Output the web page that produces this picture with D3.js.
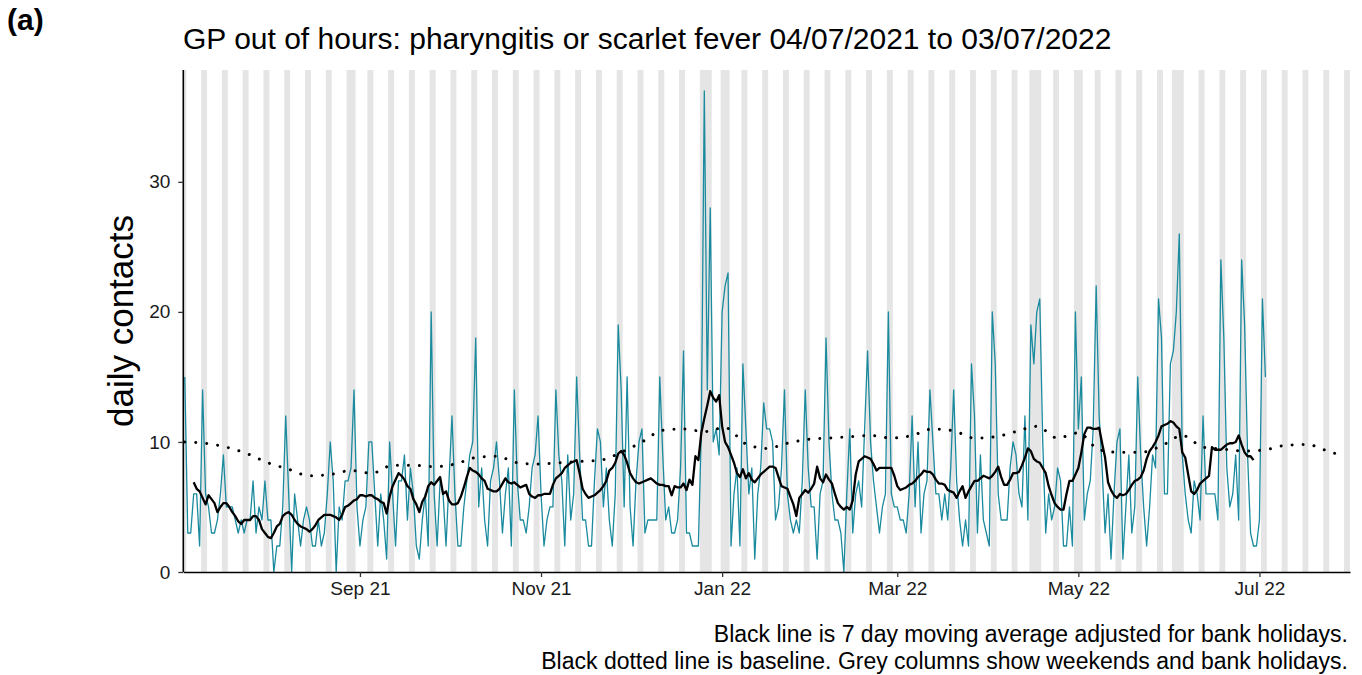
<!DOCTYPE html>
<html><head><meta charset="utf-8">
<script src="https://cdn.jsdelivr.net/npm/d3@7"></script>
<style>body{margin:0;background:#fff;} svg text{font-family:"Liberation Sans",Arial,sans-serif;}</style>
</head><body><svg id="c" width="1362" height="675"></svg>
<script>
// ---------- DATA ----------
const startDate = "2021-07-04";
const dailyContacts = [
15,3,3,6,6,2,14, 6,5,3,3,4,6,9, 5,5,5,4,3,4,3, 4,4,7,3,5,4,7, 4,4,0,2,2,5,12,
6,0,6,4,2,4,5, 4,2,2,4,2,3,6, 10,7,0,5,4,7,7, 8,14,5,2,4,5,10, 10,6,2,6,4,1,10,
6,2,7,7,9,4,8, 6,2,1,4,6,2,20, 6,2,7,6,2,7,12, 6,2,2,5,7,9,10, 18,5,8,4,2,7,8,
10,7,3,6,8,2,14, 7,4,4,3,5,8,9, 12,6,2,4,5,5,14, 9,7,2,9,4,6,15, 9,4,4,2,2,7,11,
10,5,8,4,2,6,19, 14,5,15,5,2,7,10, 11,3,4,4,4,4,15, 9,4,5,3,3,4,8, 17,3,3,2,2,2,11,
37,14,28,10,11,9,20, 22,23,2,6,8,2,16, 11,6,8,1,6,8,13, 11,11,10,4,5,8,14, 6,4,3,4,3,7,14,
8,5,5,1,6,7,18, 10,6,4,4,3,0,6, 11,3,6,7,5,11,17, 10,7,5,3,5,6,20, 6,5,5,4,4,3,6,
12,5,10,3,6,7,14, 10,6,6,4,6,4,8, 14,7,4,2,4,2,16, 12,3,9,4,3,2,20, 16,6,4,4,4,8,10,
9,6,5,12,4,19,16, 20,21,10,3,6,4,5, 8,7,2,2,5,2,20, 11,15,4,6,7,11,22, 12,8,3,6,1,6,10,
11,1,5,9,3,5,15, 9,5,2,5,9,8,21, 18,6,6,16,17,20,26, 9,6,4,3,7,6,4, 12,6,6,6,6,4,24,
18,8,5,6,9,4,24, 19,9,3,2,2,4,21, 15
];
const maStartDate = "2021-07-07";
const movingAverage = [
6.9,6.4,6.2,5.7,5.2,5.9,5.6,5.3,4.6,5.0,5.3,5.3,5.0,4.6,4.3,3.9,3.7,4.0,4.0,4.0,
4.3,4.3,4.0,3.3,3.0,2.7,2.6,3.0,3.5,3.7,4.3,4.5,4.6,4.4,4.0,3.7,3.5,3.4,3.3,3.1,
3.3,3.6,4.0,4.2,4.4,4.4,4.4,4.3,4.2,4.0,4.4,5.0,5.1,5.3,5.5,5.6,5.9,5.9,5.8,5.9,
5.9,5.7,5.6,5.4,5.3,4.5,5.8,6.6,7.1,7.6,7.4,7.1,6.6,6.4,5.6,5.2,4.6,5.4,5.8,6.6,
6.9,6.7,7.0,7.3,6.0,6.2,5.5,5.2,5.2,5.3,5.8,6.5,7.3,8.0,7.8,7.7,7.5,7.2,7.0,6.4,
6.3,6.2,6.2,6.4,6.8,7.2,6.9,6.8,6.9,6.7,6.5,6.6,6.7,6.0,5.8,5.7,5.9,5.9,6.0,6.0,
6.0,6.7,7.2,7.4,7.6,8.0,8.2,8.4,8.5,8.6,7.6,6.4,6.0,5.7,5.8,5.9,6.1,6.3,6.6,7.0,
7.8,8.0,8.4,9.1,9.3,9.0,8.4,7.6,7.2,6.9,6.8,6.9,7.0,7.1,7.2,7.0,6.8,6.7,6.7,6.6,
6.6,5.9,6.6,6.5,6.5,6.8,6.3,7.1,6.7,8.9,8.6,10.7,11.8,12.8,13.9,13.4,13.1,13.6,11.2,10.0,
9.6,9.0,8.4,7.6,7.3,7.9,7.2,7.6,7.1,6.9,7.2,7.5,7.7,7.9,8.1,8.1,8.0,7.3,6.6,6.5,
6.4,5.8,5.2,4.3,5.7,6.0,6.3,6.1,6.4,6.8,8.1,7.2,6.9,7.5,7.1,6.8,6.0,5.3,5.0,4.8,
5.0,4.8,5.5,7.5,8.5,8.7,8.9,8.8,8.7,8.3,7.8,8.0,8.0,8.0,8.0,8.0,7.4,6.6,6.3,6.4,
6.5,6.7,6.8,7.0,7.3,7.5,7.8,7.7,7.7,7.5,7.1,6.8,6.8,6.7,6.3,6.2,6.1,5.7,6.2,6.6,
5.7,6.2,6.6,7.0,7.0,7.2,7.4,7.3,7.2,7.4,7.7,8.1,7.3,6.7,6.7,7.1,7.6,7.6,7.7,8.2,
8.8,9.5,9.3,8.7,8.5,8.4,8.0,7.6,6.6,5.9,5.3,5.0,4.8,4.8,6.0,7.0,7.0,7.5,8.0,9.2,
10.6,11.1,11.1,11.0,11.0,11.1,9.9,8.8,6.9,6.3,5.9,5.7,6.0,5.9,6.0,6.3,6.7,7.0,7.1,7.3,
7.8,8.7,9.3,9.6,10.0,10.5,11.2,11.3,11.4,11.6,11.5,11.2,11.0,9.2,8.8,7.5,6.2,6.0,6.3,6.8,
7.0,7.2,7.4,9.6,9.4,9.4,9.4,9.6,9.8,9.9,9.9,10.0,10.5,9.8,9.2,8.9,8.9,8.6
];
const baselineDates = [
"2021-07-04","2021-07-11","2021-07-18","2021-07-25","2021-08-01","2021-08-08","2021-08-15","2021-08-22",
"2021-08-29","2021-09-05","2021-09-12","2021-09-19","2021-09-26","2021-10-03","2021-10-10","2021-10-17",
"2021-10-24","2021-10-31","2021-11-07","2021-11-14","2021-11-21","2021-11-28","2021-12-05","2021-12-12",
"2021-12-19","2021-12-26","2022-01-02","2022-01-09","2022-01-16","2022-01-23","2022-01-30","2022-02-06",
"2022-02-13","2022-02-20","2022-02-27","2022-03-06","2022-03-13","2022-03-20","2022-03-27","2022-04-03",
"2022-04-10","2022-04-17","2022-04-24","2022-05-01","2022-05-08","2022-05-15","2022-05-22","2022-05-29",
"2022-06-05","2022-06-12","2022-06-19","2022-06-26","2022-07-03","2022-07-10","2022-07-17","2022-07-24",
"2022-07-28"];
const baselineValues = [
10.0,9.9,9.6,9.1,8.4,7.9,7.4,7.5,
7.8,7.6,8.2,8.2,8.1,8.3,8.8,8.9,
8.4,8.3,8.4,8.5,8.6,9.2,10.0,10.9,
11.0,10.8,11.1,9.85,9.5,9.9,10.2,10.3,
10.4,10.5,10.3,10.5,11.0,10.85,10.3,10.4,
10.8,11.2,10.3,10.7,9.4,9.2,9.2,9.7,
10.5,9.6,9.45,9.3,9.4,9.75,9.8,9.3,
9.0];
const bankHolidays = ["2021-08-30","2021-12-27","2021-12-28","2022-01-03","2022-04-15","2022-04-18","2022-05-02","2022-06-02","2022-06-03"];
const greyEndDate = "2022-07-31";
const xTickDates = ["2021-09-01","2021-11-01","2022-01-01","2022-03-01","2022-05-01","2022-07-01"];
const yTickValues = [0,10,20,30];
const titleText = "GP out of hours: pharyngitis or scarlet fever 04/07/2021 to 03/07/2022";
const panelLabel = "(a)";
const yAxisLabel = "daily contacts";
const captionLines = ["Black line is 7 day moving average adjusted for bank holidays.",
  "Black dotted line is baseline. Grey columns show weekends and bank holidays."];

// ---------- DRAW ----------
const parse = d3.utcParse("%Y-%m-%d");
const DAY = 864e5;
const svg = d3.select("#c");
const L = 183.3, R = 1350, T = 70, B = 572;
const x = d3.scaleUtc()
  .domain([new Date(parse(startDate).getTime() - DAY/2), new Date(parse(greyEndDate).getTime() + DAY/2)])
  .range([L, R]);
const y = d3.scaleLinear().domain([0, 38.6]).range([B, T]);

// grey columns (weekends + bank holidays), merged into runs
const bh = new Set(bankHolidays);
const days = d3.utcDay.range(parse(startDate), d3.utcDay.offset(parse(greyEndDate), 1));
const fmt = d3.utcFormat("%Y-%m-%d");
const runs = [];
days.forEach(d => {
  const wd = d.getUTCDay();
  if (wd === 0 || wd === 6 || bh.has(fmt(d))) {
    const last = runs[runs.length - 1];
    if (last && last[1].getTime() === d.getTime() - DAY) last[1] = d; else runs.push([d, d]);
  }
});
svg.append("g").selectAll("rect").data(runs).join("rect")
  .attr("x", r => x(new Date(r[0].getTime() - DAY/2)))
  .attr("width", r => x(new Date(r[1].getTime() + DAY/2)) - x(new Date(r[0].getTime() - DAY/2)))
  .attr("y", T).attr("height", B - T).attr("fill", "#e5e5e5");

// daily series
const daily = dailyContacts.map((v, i) => ({d: d3.utcDay.offset(parse(startDate), i), v}));
const ma = movingAverage.map((v, i) => ({d: d3.utcDay.offset(parse(maStartDate), i), v}));
const base = baselineDates.map((s, i) => ({d: parse(s), v: baselineValues[i]}));
const line = d3.line().x(p => x(p.d)).y(p => y(p.v));

svg.append("path").datum(daily).attr("d", line)
  .attr("fill", "none").attr("stroke", "#1a8a9e").attr("stroke-width", 1.3).attr("stroke-linejoin", "round");
svg.append("path").datum(base).attr("d", d3.line().x(p => x(p.d)).y(p => y(p.v)).curve(d3.curveMonotoneX))
  .attr("fill", "none").attr("stroke", "#000").attr("stroke-width", 3)
  .attr("stroke-dasharray", "0.01 11").attr("stroke-linecap", "round");
svg.append("path").datum(ma).attr("d", line)
  .attr("fill", "none").attr("stroke", "#000").attr("stroke-width", 2.3).attr("stroke-linejoin", "round");

// axes
const xAxis = d3.axisBottom(x).tickValues(xTickDates.map(parse)).tickFormat(d3.utcFormat("%b %y")).tickSize(5).tickSizeOuter(0).tickPadding(5);
const gx = svg.append("g").attr("transform", `translate(0,${B})`).call(xAxis);
const yAxis = d3.axisLeft(y).tickValues(yTickValues).tickSize(5).tickSizeOuter(0).tickPadding(8);
const gy = svg.append("g").attr("transform", `translate(${L},0)`).call(yAxis);
[gx, gy].forEach(g => {
  g.select(".domain").attr("stroke", "#000").attr("stroke-width", 1.6);
  g.selectAll(".tick line").attr("stroke", "#333").attr("stroke-width", 1.3);
  g.selectAll(".tick text").attr("fill", "#1a1a1a").style("font-size", "19px").style("font-family", '"Liberation Sans",Arial,sans-serif');
});
gy.select(".domain").attr("d", `M0,${T}V${B}`);

// texts
svg.append("text").attr("x", 7).attr("y", 30).text(panelLabel)
  .style("font-size", "30px").style("font-weight", "bold");
svg.append("text").attr("x", 183).attr("y", 49).text(titleText).style("font-size", "30px").attr("fill", "#000");
svg.append("text").attr("transform", `translate(133,${(T + B) / 2}) rotate(-90)`).attr("text-anchor", "middle")
  .text(yAxisLabel).style("font-size", "35px").attr("fill", "#000");
captionLines.forEach((t, i) => svg.append("text").attr("x", 1348).attr("y", 642 + i * 27)
  .attr("text-anchor", "end").text(t).style("font-size", "23px").attr("fill", "#000"));
</script></body></html>
